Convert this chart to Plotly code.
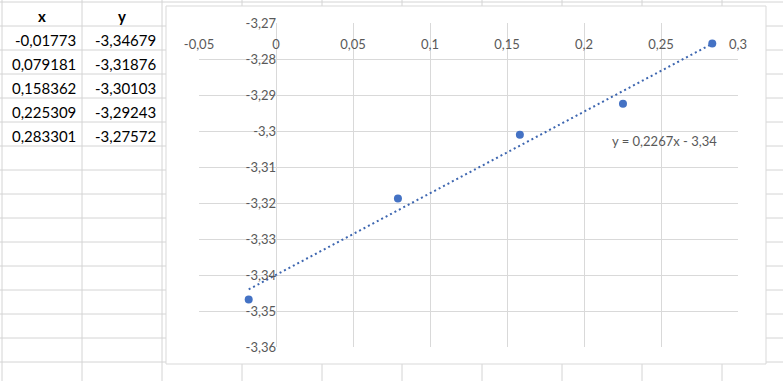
import numpy as np
import plotly.graph_objects as go

# ---- data (read from the spreadsheet) ----
x_vals = [-0.01773, 0.079181, 0.158362, 0.225309, 0.283301]
y_vals = [-3.34679, -3.31876, -3.30103, -3.29243, -3.27572]

x_tickvals = [-0.05, 0.0, 0.05, 0.10, 0.15, 0.20, 0.25, 0.30]
x_ticktext = ["-0,05", "0", "0,05", "0,1", "0,15", "0,2", "0,25", "0,3"]
y_tickvals = [-3.27, -3.28, -3.29, -3.30, -3.31, -3.32, -3.33, -3.34, -3.35, -3.36]
y_ticktext = ["-3,27", "-3,28", "-3,29", "-3,3", "-3,31", "-3,32", "-3,33", "-3,34", "-3,35", "-3,36"]
header = ["x", "y"]

# ---- layout geometry (pixels) ----
W, H = 783, 381
ML, MR, MT, MB = 199, 45, 23, 34
PW, PH = W - ML - MR, H - MT - MB


def xp(px):
    return (px - ML) / PW


def yp(py):
    return (H - MB - py) / PH


# linear trendline computed from the data
slope, icpt = np.polyfit(x_vals, y_vals, 1)
tx = [min(x_vals), max(x_vals)]
ty = [slope * v + icpt for v in tx]
eq_text = "y = {:.4f}x - {:.2f}".format(slope, abs(icpt)).replace(".", ",")

BLUE = "#4472C4"
TREND = "#3D66B0"
GRID = "#D9D9D9"
SHEET = "#D4D4D4"
TXT = "#595959"
FONT = "Lato"

fig = go.Figure()
fig.add_trace(go.Scatter(
    x=tx, y=ty, mode="lines",
    line=dict(color=TREND, width=2, dash="2px,3px"),
    hoverinfo="skip", showlegend=False))
fig.add_trace(go.Scatter(
    x=x_vals, y=y_vals, mode="markers",
    marker=dict(color=BLUE, size=8),
    showlegend=False))

shapes = []
# spreadsheet grid
for cx in range(2, W, 80):
    shapes.append(dict(type="line", xref="paper", yref="paper",
                       x0=xp(cx), x1=xp(cx), y0=yp(0), y1=yp(H),
                       line=dict(color=SHEET, width=1), layer="below"))
for ry in range(2, H, 24):
    shapes.append(dict(type="line", xref="paper", yref="paper",
                       x0=xp(0), x1=xp(W), y0=yp(ry), y1=yp(ry),
                       line=dict(color=SHEET, width=1), layer="below"))
# chart area
shapes.append(dict(type="rect", xref="paper", yref="paper",
                   x0=xp(166), x1=xp(766), y0=yp(364), y1=yp(6),
                   fillcolor="white", line=dict(color=GRID, width=1), layer="below"))

annotations = []
# table header
for i, h in enumerate(header):
    annotations.append(dict(xref="paper", yref="paper", x=xp(42 + 80 * i), y=yp(16),
                            text="<b>%s</b>" % h, showarrow=False,
                            xanchor="center", yanchor="middle",
                            font=dict(family=FONT, size=15, color="black")))
# table values
for r, (a, b) in enumerate(zip(x_vals, y_vals)):
    for c, v in enumerate((a, b)):
        annotations.append(dict(xref="paper", yref="paper", x=xp(78 + 80 * c), y=yp(40 + 24 * r),
                                text=str(v).replace(".", ","), showarrow=False,
                                xanchor="right", yanchor="middle",
                                font=dict(family=FONT, size=15, color="black")))
# trendline equation
annotations.append(dict(xref="paper", yref="paper", x=xp(664), y=yp(141),
                        text=eq_text, showarrow=False, xanchor="center", yanchor="middle",
                        font=dict(family=FONT, size=13, color=TXT)))

xr = [x_tickvals[0], x_tickvals[-1]]
yr = [y_tickvals[-1], y_tickvals[0]]

fig.update_layout(
    width=W, height=H,
    margin=dict(l=ML, r=MR, t=MT, b=MB, pad=0),
    paper_bgcolor="white", plot_bgcolor="rgba(0,0,0,0)",
    separators=", ",
    font=dict(family=FONT, size=13, color=TXT),
    shapes=shapes, annotations=annotations,
    hovermode=False,
    xaxis=dict(range=xr, tickvals=x_tickvals, ticktext=x_ticktext,
               showgrid=True, gridcolor=GRID, gridwidth=1, zeroline=False,
               showline=False, ticks="", ticklen=0, anchor="free", position=1, side="bottom",
               ticklabelstandoff=12, tickfont=dict(family=FONT, size=13, color=TXT)),
    yaxis=dict(range=yr, tickvals=y_tickvals, ticktext=y_ticktext,
               showgrid=True, gridcolor=GRID, gridwidth=1, zeroline=False,
               showline=False, ticks="", ticklen=0, anchor="free",
               position=(0 - xr[0]) / (xr[1] - xr[0]),
               ticklabelstandoff=0, tickfont=dict(family=FONT, size=13, color=TXT)),
)

fig.write_html("out.html", config={"displayModeBar": False},
               post_script="document.body.style.margin='0px';document.body.style.overflow='hidden';")
